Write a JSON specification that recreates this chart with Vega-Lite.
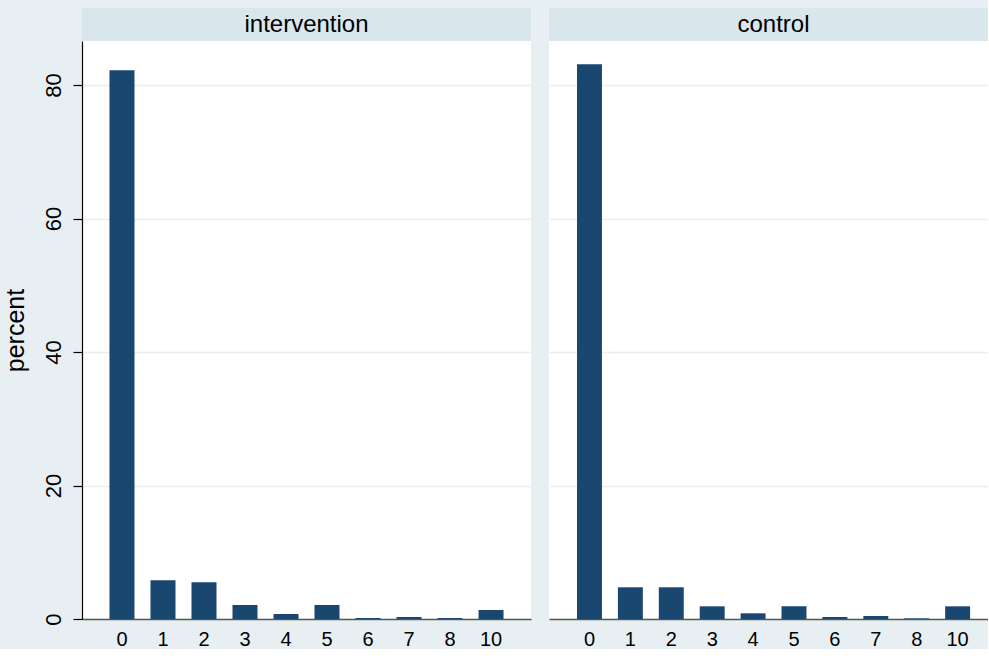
{
  "$schema": "https://vega.github.io/schema/vega-lite/v6.json",
  "background": "#e8eff2",
  "padding": {"left": 3, "top": 8, "right": 0, "bottom": 0},
  "datasets": {
    "bars": [
      {"group": "intervention", "count": 0, "percent": 82.2},
      {"group": "intervention", "count": 1, "percent": 5.8},
      {"group": "intervention", "count": 2, "percent": 5.5},
      {"group": "intervention", "count": 3, "percent": 2.1},
      {"group": "intervention", "count": 4, "percent": 0.75},
      {"group": "intervention", "count": 5, "percent": 2.1},
      {"group": "intervention", "count": 6, "percent": 0.15},
      {"group": "intervention", "count": 7, "percent": 0.3},
      {"group": "intervention", "count": 8, "percent": 0.15},
      {"group": "intervention", "count": 10, "percent": 1.35},
      {"group": "control", "count": 0, "percent": 83.1},
      {"group": "control", "count": 1, "percent": 4.75},
      {"group": "control", "count": 2, "percent": 4.75},
      {"group": "control", "count": 3, "percent": 1.9},
      {"group": "control", "count": 4, "percent": 0.85},
      {"group": "control", "count": 5, "percent": 1.9},
      {"group": "control", "count": 6, "percent": 0.3},
      {"group": "control", "count": 7, "percent": 0.45},
      {"group": "control", "count": 8, "percent": 0.1},
      {"group": "control", "count": 10, "percent": 1.9}
    ],
    "panels": [
      {"group": "intervention"},
      {"group": "control"}
    ]
  },
  "config": {
    "view": {"stroke": null},
    "font": "Liberation Sans",
    "axis": {"labelColor": "#000000", "titleColor": "#000000", "labelFont": "Liberation Sans", "titleFont": "Liberation Sans"}
  },
  "hconcat": [
    {
      "spacing": 0,
      "vconcat": [
        {
          "width": 449,
          "height": 33,
          "view": {"fill": "#d9e6eb", "stroke": null},
          "data": {"name": "panels"},
          "transform": [{"filter": "datum.group === 'intervention'"}],
          "mark": {"type": "text", "fontSize": 24, "color": "#000000", "baseline": "middle", "align": "center"},
          "encoding": {"text": {"field": "group"}}
        },
        {
          "width": 449,
          "height": 578,
          "view": {"fill": "#ffffff", "stroke": null},
          "data": {"name": "bars"},
          "transform": [{"filter": "datum.group === 'intervention'"}],
          "mark": {"type": "bar", "color": "#1a476f"},
          "encoding": {
            "x": {
              "field": "count", "type": "ordinal",
              "scale": {"paddingInner": 0.39, "paddingOuter": 0.67},
              "axis": {"title": null, "labelAngle": 0, "labelFontSize": 20, "ticks": false, "labelPadding": 10, "domainColor": "#555555", "domainWidth": 1.5, "grid": false}
            },
            "y": {
              "field": "percent", "type": "quantitative",
              "scale": {"domain": [0, 86.6], "nice": false},
              "axis": {"title": "percent", "titleFontSize": 25, "titleFontWeight": "normal", "titlePadding": 14, "values": [0, 20, 40, 60, 80], "labelAngle": 270, "labelFontSize": 22, "labelPadding": 8, "tickSize": 9, "tickColor": "#000000", "tickWidth": 1.2, "domainColor": "#000000", "domainWidth": 1.2, "grid": true, "gridColor": "#e6eef0", "gridWidth": 1.5}
            }
          }
        }
      ]
    },
    {
      "spacing": 0,
      "vconcat": [
        {
          "width": 439,
          "height": 33,
          "view": {"fill": "#d9e6eb", "stroke": null},
          "data": {"name": "panels"},
          "transform": [{"filter": "datum.group === 'control'"}],
          "mark": {"type": "text", "fontSize": 24, "color": "#000000", "baseline": "middle", "align": "center", "dx": 5},
          "encoding": {"text": {"field": "group"}}
        },
        {
          "width": 439,
          "height": 578,
          "view": {"fill": "#ffffff", "stroke": null},
          "data": {"name": "bars"},
          "transform": [{"filter": "datum.group === 'control'"}],
          "mark": {"type": "bar", "color": "#1a476f"},
          "encoding": {
            "x": {
              "field": "count", "type": "ordinal",
              "scale": {"paddingInner": 0.39, "paddingOuter": 0.561, "align": 0.61},
              "axis": {"title": null, "labelAngle": 0, "labelFontSize": 20, "ticks": false, "labelPadding": 10, "domainColor": "#555555", "domainWidth": 1.5, "grid": false}
            },
            "y": {
              "field": "percent", "type": "quantitative",
              "scale": {"domain": [0, 86.6], "nice": false},
              "axis": {"title": null, "values": [0, 20, 40, 60, 80], "labels": false, "ticks": false, "domain": false, "minExtent": 0, "maxExtent": 0, "grid": true, "gridColor": "#e6eef0", "gridWidth": 1.5}
            }
          }
        }
      ]
    }
  ],
  "spacing": 18
}
